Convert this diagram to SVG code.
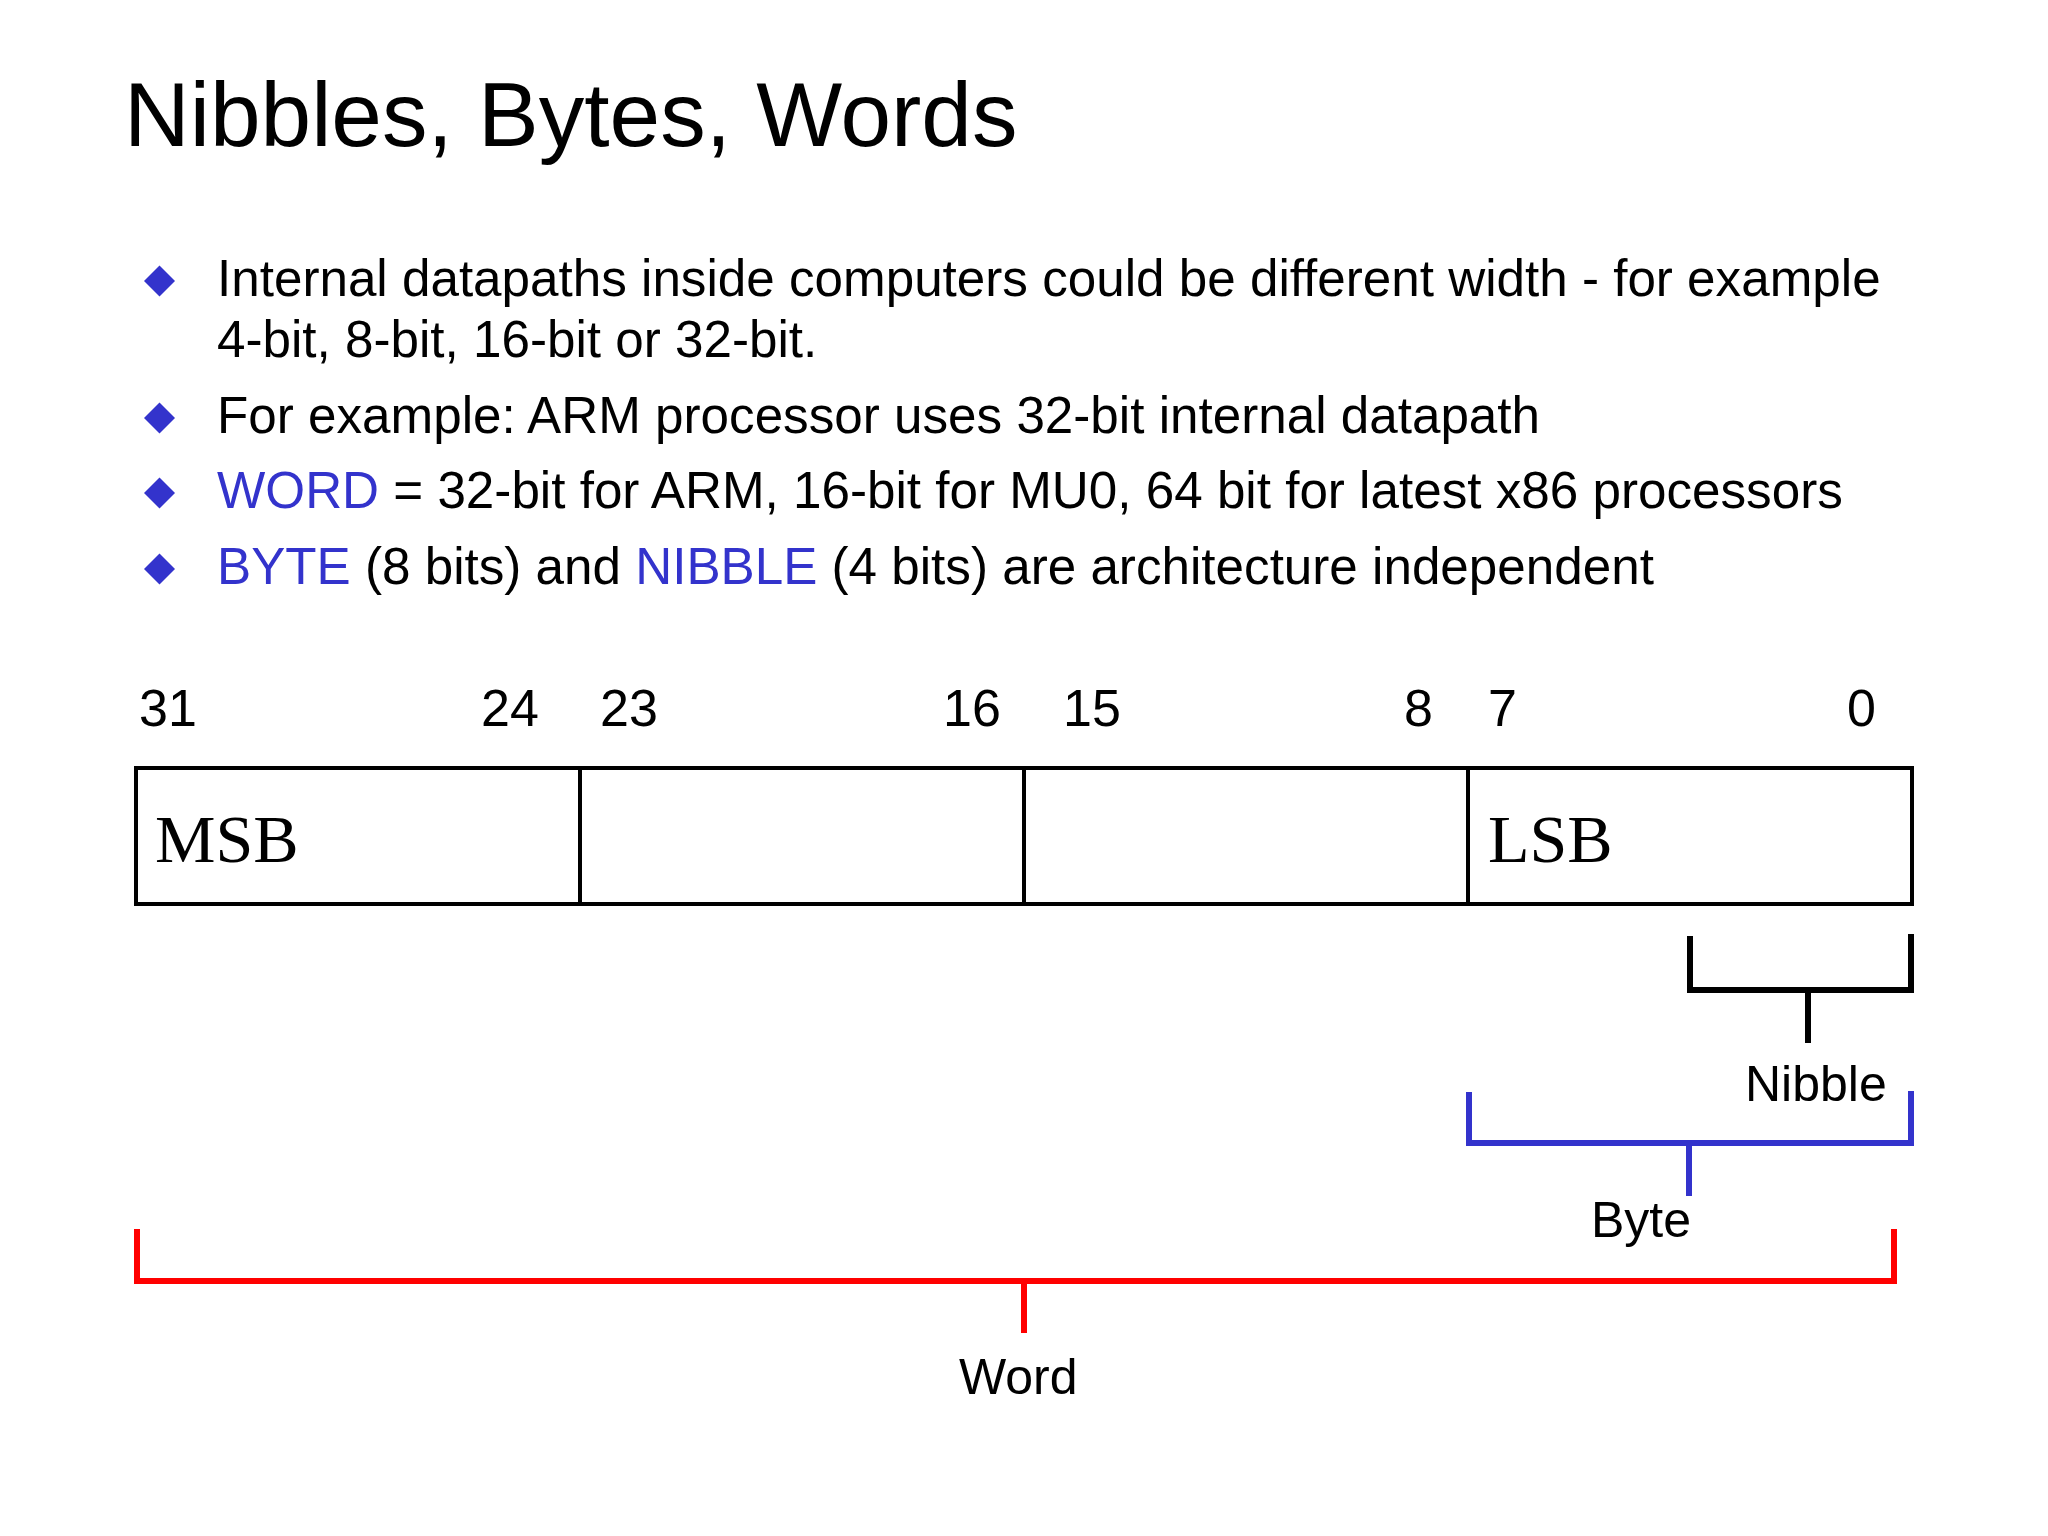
<svg xmlns="http://www.w3.org/2000/svg" width="2048" height="1536" viewBox="0 0 2048 1536">
<defs>
<style>
.sans{font-family:"Liberation Sans",Arial,sans-serif;fill:#000}
.serif{font-family:"Liberation Serif","Times New Roman",serif;fill:#000}
.blue{fill:#3333CC}
.bt{font-size:51.2px}
.bit{font-size:52px}
.lbl{font-size:50px}
.cell{fill:#fff;stroke:#000;stroke-width:4}
.br{fill:none;stroke-width:6;stroke-linecap:square;stroke-linejoin:miter}
</style>
<polygon id="dia" points="0,-15.5 15.5,0 0,15.5 -15.5,0" fill="#3333CC"/>
</defs>
<rect width="2048" height="1536" fill="#fff"/>
<g id="title">
<text class="sans" x="124" y="146" font-size="91">Nibbles, Bytes, Words</text>
</g>
<g id="bullets">
<use href="#dia" x="159.5" y="281"/>
<text class="sans bt" x="217" y="296">Internal datapaths inside computers could be different width - for example</text>
<text class="sans bt" x="217" y="357">4-bit, 8-bit, 16-bit or 32-bit.</text>
<use href="#dia" x="159.5" y="418"/>
<text class="sans bt" x="217" y="433">For example: ARM processor uses 32-bit internal datapath</text>
<use href="#dia" x="159.5" y="493"/>
<text class="sans bt" x="217" y="508"><tspan class="blue">WORD</tspan> = 32-bit for ARM, 16-bit for MU0, 64 bit for latest x86 processors</text>
<use href="#dia" x="159.5" y="569"/>
<text class="sans bt" x="217" y="584"><tspan class="blue">BYTE</tspan> (8 bits) and <tspan class="blue">NIBBLE</tspan> (4 bits) are architecture independent</text>
</g>
<g id="bitnumbers">
<text class="sans bit" x="139" y="726">31</text>
<text class="sans bit" x="481" y="726">24</text>
<text class="sans bit" x="600" y="726">23</text>
<text class="sans bit" x="943" y="726">16</text>
<text class="sans bit" x="1063" y="726">15</text>
<text class="sans bit" x="1404" y="726">8</text>
<text class="sans bit" x="1488" y="726">7</text>
<text class="sans bit" x="1847" y="726">0</text>
</g>
<g id="byte3"><rect class="cell" x="136" y="768" width="444" height="136"/><text class="serif" x="155" y="862" font-size="68">MSB</text></g>
<g id="byte2"><rect class="cell" x="580" y="768" width="444" height="136"/></g>
<g id="byte1"><rect class="cell" x="1024" y="768" width="444" height="136"/></g>
<g id="byte0"><rect class="cell" x="1468" y="768" width="444" height="136"/><text class="serif" x="1488" y="862" font-size="68">LSB</text></g>
<g id="connectors">
<path class="br" stroke="#000" d="M1690,939 V990 H1911 V937 M1808,990 V1040"/>
<path class="br" stroke="#3333CC" stroke-width="5" d="M1469,1095 V1143 H1911 V1094 M1689,1143 V1193"/>
<path class="br" stroke="#FF0000" stroke-width="5" d="M137,1232 V1281 H1894 V1232 M1024,1281 V1330"/>
</g>
<g id="nibble"><text class="sans lbl" x="1745" y="1101">Nibble</text></g>
<g id="byte"><text class="sans lbl" x="1591" y="1237">Byte</text></g>
<g id="word"><text class="sans lbl" x="959" y="1394">Word</text></g>
</svg>
